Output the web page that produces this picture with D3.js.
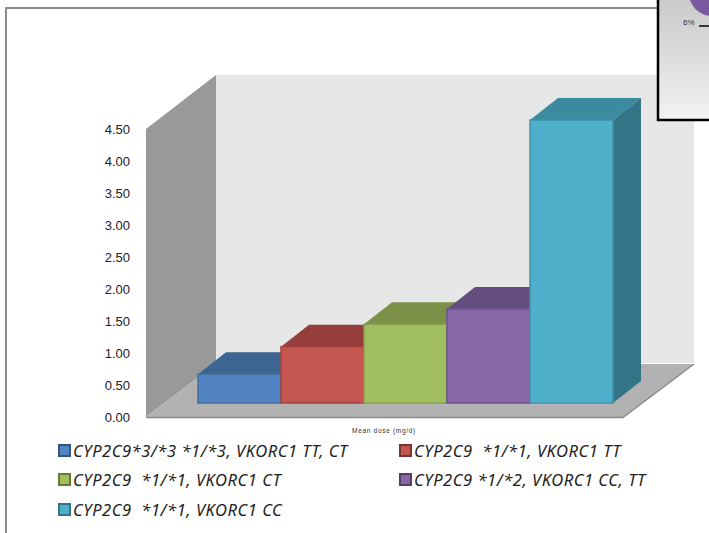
<!DOCTYPE html>
<html>
<head>
<meta charset="utf-8">
<script src="https://cdn.jsdelivr.net/npm/d3@7/dist/d3.min.js"></script>
<style>
html, body { margin: 0; padding: 0; background: #fff; overflow: hidden; }
text { font-family: "Liberation Sans", Arial, sans-serif; }
.legend-label { font-family: "Noto Sans", sans-serif; font-size: 16.5px; font-style: italic; letter-spacing: 0.55px; fill: #222; }
</style>
</head>
<body>
<script>
// values
var categories = [
    "CYP2C9*3/*3 *1/*3, VKORC1 TT, CT",
    "CYP2C9  *1/*1, VKORC1 TT",
    "CYP2C9  *1/*1, VKORC1 CT",
    "CYP2C9 *1/*2, VKORC1 CC, TT",
    "CYP2C9  *1/*1, VKORC1 CC"
];
var meanDose = [0.45, 0.88, 1.23, 1.47, 4.42];
var tickValues = [0, 0.5, 1, 1.5, 2, 2.5, 3, 3.5, 4, 4.5];
var xTitle = "Mean dose (mg/d)";

var frontColors = ["#5283c2", "#c4554f", "#a1bf61", "#8767a6", "#4fb0cb"];
var topColors = ["#3e6592", "#953e3c", "#7a9147", "#634e7f", "#3b8aa0"];
var sideColors = ["#345578", "#7c3432", "#657a3a", "#533f6a", "#337587"];
var strokeColors = ["#41709f", "#a24341", "#84a04c", "#6c5489", "#3f94ab"];

var width = 709, height = 533;

var svg = d3.select("body")
    .append("svg")
    .attr("width", width)
    .attr("height", height);

// outer frame of the chart, runs off the bottom of the crop
svg.append("path")
    .attr("d", d3.line()([[6, 533], [6, 8], [660, 8]]))
    .attr("fill", "none")
    .attr("stroke", "#8c8c8c")
    .attr("stroke-width", 2);

var yScale = d3.scaleLinear().domain([0, 4.5]).range([417, 129]);
var xScale = d3.scaleBand().domain(categories).range([198, 613]);
var color = function(list, d) { return list[categories.indexOf(d)]; };

// the 3d box: front corner, depth of the walls
var left = 146, right = 623, wallDx = 70, wallDy = 53;
var pts = function(a) { return a.map(function(p) { return p.join(","); }).join(" "); };

// back wall
svg.append("rect")
    .attr("x", left + wallDx)
    .attr("y", yScale(4.5) - wallDy - 1)
    .attr("width", right - left + 1)
    .attr("height", yScale(0) - yScale(4.5))
    .attr("fill", "#e7e7e7");

// left wall
svg.append("polygon")
    .attr("points", pts([
        [left, yScale(4.5)],
        [left + wallDx, yScale(4.5) - wallDy - 1],
        [left + wallDx, yScale(0) - wallDy],
        [left, yScale(0)]
    ]))
    .attr("fill", "#999999");

// floor
svg.append("polygon")
    .attr("points", pts([
        [left, yScale(0)],
        [left + wallDx, yScale(0) - wallDy],
        [right + wallDx + 1, yScale(0) - wallDy],
        [right, yScale(0)]
    ]))
    .attr("fill", "#b2b2b2");

// front edge of the floor
svg.append("path")
    .attr("d", d3.line()([[left, yScale(0) + 0.5], [right, yScale(0) + 0.5], [right + wallDx + 1, yScale(0) - wallDy]]))
    .attr("fill", "none")
    .attr("stroke", "#8a8a8a")
    .attr("stroke-width", 1.5);

// bars sit a bit in from the front edge
var barLift = 14, barDx = 28, barDy = 22;
var barBase = yScale(0) - barLift;
var barTop = function(v) { return yScale(v) - barLift; };

var bars = svg.selectAll(".bar")
    .data(categories)
    .enter()
    .append("g")
    .attr("class", "bar");

bars.append("polygon")
    .attr("points", function(d, i) {
        var x1 = xScale(d), x2 = x1 + xScale.bandwidth(), t = barTop(meanDose[i]);
        return pts([[x1, t], [x1 + barDx, t - barDy], [x2 + barDx, t - barDy], [x2, t]]);
    })
    .attr("fill", function(d) { return color(topColors, d); });

bars.append("polygon")
    .attr("points", function(d, i) {
        var x2 = xScale(d) + xScale.bandwidth(), t = barTop(meanDose[i]);
        return pts([[x2, t], [x2 + barDx, t - barDy], [x2 + barDx, barBase - barDy], [x2, barBase]]);
    })
    .attr("fill", function(d) { return color(sideColors, d); });

bars.append("rect")
    .attr("x", function(d) { return xScale(d); })
    .attr("y", function(d, i) { return barTop(meanDose[i]); })
    .attr("width", xScale.bandwidth())
    .attr("height", function(d, i) { return barBase - barTop(meanDose[i]); })
    .attr("fill", function(d) { return color(frontColors, d); })
    .attr("stroke", function(d) { return color(strokeColors, d); })
    .attr("stroke-width", 1.5);

// y axis labels only, no line
var yAxis = d3.axisLeft(yScale)
    .tickValues(tickValues)
    .tickSize(0)
    .tickPadding(16)
    .tickFormat(d3.format(".2f"));

var yGroup = svg.append("g")
    .attr("transform", "translate(" + left + ",0)")
    .call(yAxis);
yGroup.select(".domain").remove();
yGroup.selectAll("text")
    .attr("font-size", 13)
    .attr("fill", "#222");

// tiny axis title
svg.append("text")
    .attr("x", 384)
    .attr("y", 433)
    .attr("text-anchor", "middle")
    .attr("font-size", 6.5)
    .attr("letter-spacing", 0.7)
    .attr("fill", "#333")
    .text(xTitle);

// legend, two columns
var legendCol = d3.scaleOrdinal().domain([0, 1]).range([58, 399]);
var legendRow = d3.scaleOrdinal().domain([0, 1, 2]).range([451, 480, 510]);

var legend = svg.selectAll(".legend")
    .data(categories)
    .enter()
    .append("g")
    .attr("class", "legend")
    .attr("transform", function(d, i) {
        return "translate(" + legendCol(i % 2) + "," + legendRow(Math.floor(i / 2)) + ")";
    });

legend.append("rect")
    .attr("x", 1)
    .attr("y", -6)
    .attr("width", 11)
    .attr("height", 11)
    .attr("fill", function(d) { return color(frontColors, d); })
    .attr("stroke", function(d) { return color(sideColors, d); })
    .attr("stroke-width", 2);

legend.append("text")
    .attr("class", "legend-label")
    .attr("x", 15)
    .attr("y", 6)
    .style("white-space", "pre")
    .text(function(d) { return d; });

// corner of the pie chart that covers this one
var defs = svg.append("defs");
var grad = defs.append("linearGradient")
    .attr("id", "insetFill")
    .attr("x1", 0).attr("y1", 0).attr("x2", 0).attr("y2", 1);
grad.append("stop").attr("offset", "0%").attr("stop-color", "#c9c9c9");
grad.append("stop").attr("offset", "100%").attr("stop-color", "#f2f2f2");

svg.append("rect")
    .attr("x", 658)
    .attr("y", -3)
    .attr("width", 60)
    .attr("height", 123)
    .attr("fill", "url(#insetFill)")
    .attr("stroke", "#000")
    .attr("stroke-width", 2.5);

var pieArc = d3.arc()
    .innerRadius(0)
    .outerRadius(23)
    .startAngle(Math.PI)
    .endAngle(Math.PI * 2);

svg.append("path")
    .attr("d", pieArc())
    .attr("transform", "translate(712,-7)")
    .attr("fill", "#7a5a9e");

svg.append("text")
    .attr("x", 683)
    .attr("y", 25)
    .attr("font-size", 8)
    .attr("fill", "#333")
    .text("6%");

svg.append("path")
    .attr("d", d3.line()([[699, 26], [709, 26]]))
    .attr("stroke", "#000")
    .attr("stroke-width", 1.5);
</script>
</body>
</html>
